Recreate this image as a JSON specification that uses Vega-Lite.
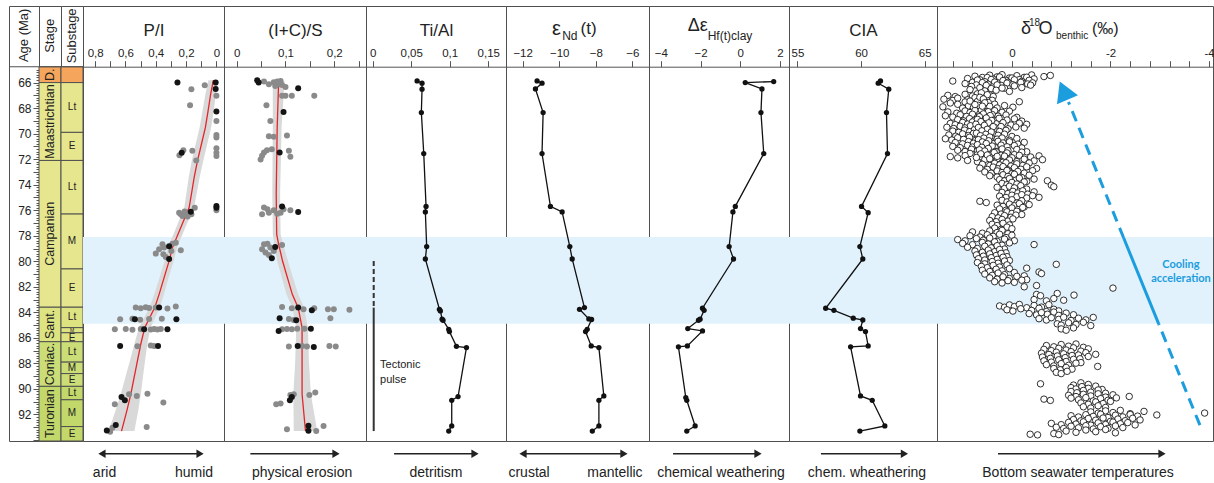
{
"$schema": "https://vega.github.io/schema/vega-lite/v6.json",
"background": "white",
"padding": {"left": 8, "top": 5, "right": 0, "bottom": 0},
"spacing": 0,
"bounds": "flush",
"resolve": {"scale": {"x": "independent", "y": "independent", "color": "independent"}},
"config": {
  "view": {"stroke": "#505050", "strokeWidth": 1},
  "font": "Liberation Sans",
  "axis": {"labelFont": "Liberation Sans", "titleFont": "Liberation Sans", "labelFontSize": 11.5, "titleFontSize": 17, "titleFontWeight": "normal", "labelColor": "#222", "titleColor": "#222", "tickColor": "#555", "domainColor": "#555", "tickSize": 6, "labelPadding": 2, "titlePadding": 8, "grid": false, "labelOverlap": false, "labelBound": false, "labelFlush": false, "labelSeparation": -1000},
  "text": {"font": "Liberation Sans", "color": "#222"}
},
"datasets": {
  "stages": [
    {"stage": "D.", "start": 64.76, "end": 66.0, "mid": 65.38},
    {"stage": "Maastrichtian", "start": 66.0, "end": 72.1, "mid": 69.05},
    {"stage": "Campanian", "start": 72.1, "end": 83.6, "mid": 77.85},
    {"stage": "Sant.", "start": 83.6, "end": 86.3, "mid": 84.95},
    {"stage": "Coniac.", "start": 86.3, "end": 89.8, "mid": 88.05},
    {"stage": "Turonian", "start": 89.8, "end": 94.08, "mid": 91.94}
  ],
  "substages": [
    {"stage": "D.", "sub": "", "start": 64.76, "end": 66.0, "mid": 65.4, "fs": "n"},
    {"stage": "Maastrichtian", "sub": "Lt", "start": 66.0, "end": 69.9, "mid": 67.95, "fs": "n"},
    {"stage": "Maastrichtian", "sub": "E", "start": 69.9, "end": 72.1, "mid": 71.0, "fs": "n"},
    {"stage": "Campanian", "sub": "Lt", "start": 72.1, "end": 76.3, "mid": 74.2, "fs": "n"},
    {"stage": "Campanian", "sub": "M", "start": 76.3, "end": 80.6, "mid": 78.45, "fs": "n"},
    {"stage": "Campanian", "sub": "E", "start": 80.6, "end": 83.6, "mid": 82.1, "fs": "n"},
    {"stage": "Sant.", "sub": "Lt", "start": 83.6, "end": 85.2, "mid": 84.35, "fs": "n"},
    {"stage": "Sant.", "sub": "M", "start": 85.2, "end": 85.6, "mid": 85.4, "fs": "s"},
    {"stage": "Sant.", "sub": "E", "start": 85.6, "end": 86.3, "mid": 85.98, "fs": "n"},
    {"stage": "Coniac.", "sub": "Lt", "start": 86.3, "end": 87.9, "mid": 87.1, "fs": "n"},
    {"stage": "Coniac.", "sub": "M", "start": 87.9, "end": 88.8, "mid": 88.35, "fs": "n"},
    {"stage": "Coniac.", "sub": "E", "start": 88.8, "end": 89.8, "mid": 89.3, "fs": "n"},
    {"stage": "Turonian", "sub": "Lt", "start": 89.8, "end": 90.85, "mid": 90.33, "fs": "n"},
    {"stage": "Turonian", "sub": "M", "start": 90.85, "end": 92.95, "mid": 91.9, "fs": "n"},
    {"stage": "Turonian", "sub": "E", "start": 92.95, "end": 94.08, "mid": 93.5, "fs": "n"}
  ],
  "pi": [
    {"age": 66.2, "v": 0.077, "c": "light"}, {"age": 66.52, "v": 0.165, "c": "light"}, {"age": 67.04, "v": 0.0, "c": "light"}, {"age": 67.77, "v": 0.174, "c": "light"}, {"age": 69.0, "v": 0.0, "c": "light"}, {"age": 70.1, "v": 0.0, "c": "light"}, {"age": 70.3, "v": 0.0, "c": "light"}, {"age": 71.15, "v": 0.0, "c": "light"}, {"age": 71.5, "v": 0.0, "c": "light"}, {"age": 71.75, "v": 0.0, "c": "light"}, {"age": 71.3, "v": 0.218, "c": "light"}, {"age": 71.7, "v": 0.244, "c": "light"}, {"age": 71.35, "v": 0.159, "c": "light"}, {"age": 72.1, "v": 0.133, "c": "light"}, {"age": 76.0, "v": 0.0, "c": "light"},
    {"age": 76.19, "v": 0.246, "c": "light"}, {"age": 76.32, "v": 0.235, "c": "light"}, {"age": 76.45, "v": 0.224, "c": "light"}, {"age": 76.4, "v": 0.202, "c": "light"}, {"age": 76.27, "v": 0.18, "c": "light"}, {"age": 76.32, "v": 0.165, "c": "light"}, {"age": 75.8, "v": 0.143, "c": "light"}, {"age": 76.1, "v": 0.21, "c": "light"}, {"age": 76.5, "v": 0.19, "c": "light"},
    {"age": 78.67, "v": 0.356, "c": "light"}, {"age": 78.93, "v": 0.345, "c": "light"}, {"age": 79.06, "v": 0.378, "c": "light"}, {"age": 79.4, "v": 0.4, "c": "light"}, {"age": 79.45, "v": 0.35, "c": "light"}, {"age": 79.66, "v": 0.334, "c": "light"}, {"age": 78.62, "v": 0.29, "c": "light"}, {"age": 78.54, "v": 0.268, "c": "light"}, {"age": 79.14, "v": 0.235, "c": "light"}, {"age": 79.19, "v": 0.297, "c": "light"},
    {"age": 83.63, "v": 0.532, "c": "light"}, {"age": 83.68, "v": 0.499, "c": "light"}, {"age": 83.6, "v": 0.466, "c": "light"}, {"age": 83.66, "v": 0.444, "c": "light"}, {"age": 83.62, "v": 0.4, "c": "light"}, {"age": 83.7, "v": 0.323, "c": "light"}, {"age": 83.55, "v": 0.268, "c": "light"},
    {"age": 84.54, "v": 0.635, "c": "light"}, {"age": 84.5, "v": 0.554, "c": "light"}, {"age": 84.58, "v": 0.503, "c": "light"}, {"age": 84.52, "v": 0.444, "c": "light"}, {"age": 84.5, "v": 0.36, "c": "light"},
    {"age": 85.33, "v": 0.67, "c": "light"}, {"age": 85.3, "v": 0.598, "c": "light"}, {"age": 85.36, "v": 0.554, "c": "light"}, {"age": 85.3, "v": 0.499, "c": "light"}, {"age": 85.35, "v": 0.433, "c": "light"}, {"age": 85.3, "v": 0.411, "c": "light"}, {"age": 85.34, "v": 0.389, "c": "light"}, {"age": 85.3, "v": 0.367, "c": "light"},
    {"age": 86.66, "v": 0.521, "c": "light"}, {"age": 86.6, "v": 0.433, "c": "light"}, {"age": 86.63, "v": 0.411, "c": "light"},
    {"age": 90.42, "v": 0.576, "c": "light"}, {"age": 90.55, "v": 0.525, "c": "light"}, {"age": 90.37, "v": 0.455, "c": "light"}, {"age": 91.2, "v": 0.67, "c": "light"}, {"age": 91.07, "v": 0.35, "c": "light"},
    {"age": 93.04, "v": 0.686, "c": "light"}, {"age": 93.35, "v": 0.701, "c": "light"}, {"age": 92.99, "v": 0.46, "c": "light"},
    {"age": 66.0, "v": 0.257, "c": "dark"}, {"age": 65.99, "v": 0.005, "c": "dark"}, {"age": 66.5, "v": 0.005, "c": "dark"}, {"age": 68.27, "v": 0.0, "c": "dark"}, {"age": 71.5, "v": 0.229, "c": "dark"}, {"age": 75.66, "v": 0.0, "c": "dark"}, {"age": 75.8, "v": 0.0, "c": "dark"}, {"age": 76.11, "v": 0.169, "c": "dark"}, {"age": 78.83, "v": 0.312, "c": "dark"}, {"age": 79.82, "v": 0.312, "c": "dark"}, {"age": 83.63, "v": 0.378, "c": "dark"}, {"age": 84.54, "v": 0.538, "c": "dark"}, {"age": 84.54, "v": 0.264, "c": "dark"}, {"age": 85.33, "v": 0.477, "c": "dark"}, {"age": 85.33, "v": 0.323, "c": "dark"}, {"age": 86.63, "v": 0.635, "c": "dark"}, {"age": 86.63, "v": 0.385, "c": "dark"}, {"age": 90.63, "v": 0.626, "c": "dark"}, {"age": 90.89, "v": 0.604, "c": "dark"}, {"age": 92.83, "v": 0.664, "c": "dark"}, {"age": 93.25, "v": 0.723, "c": "dark"}
  ],
  "pifit": [
    {"age": 65.81, "v": 0.02, "lo": -0.013, "hi": 0.053}, {"age": 66.91, "v": 0.038, "lo": 0.003, "hi": 0.073}, {"age": 68.22, "v": 0.055, "lo": 0.018, "hi": 0.092}, {"age": 69.53, "v": 0.073, "lo": 0.035, "hi": 0.111}, {"age": 70.83, "v": 0.099, "lo": 0.061, "hi": 0.137}, {"age": 72.14, "v": 0.125, "lo": 0.087, "hi": 0.163}, {"age": 73.44, "v": 0.147, "lo": 0.111, "hi": 0.183}, {"age": 74.75, "v": 0.165, "lo": 0.131, "hi": 0.199}, {"age": 75.79, "v": 0.18, "lo": 0.148, "hi": 0.212}, {"age": 77.36, "v": 0.235, "lo": 0.205, "hi": 0.265}, {"age": 78.93, "v": 0.29, "lo": 0.26, "hi": 0.32}, {"age": 79.97, "v": 0.312, "lo": 0.282, "hi": 0.342}, {"age": 81.28, "v": 0.345, "lo": 0.315, "hi": 0.375}, {"age": 82.59, "v": 0.378, "lo": 0.346, "hi": 0.41}, {"age": 83.63, "v": 0.407, "lo": 0.373, "hi": 0.441}, {"age": 85.2, "v": 0.473, "lo": 0.435, "hi": 0.511}, {"age": 86.5, "v": 0.499, "lo": 0.456, "hi": 0.542}, {"age": 87.81, "v": 0.521, "lo": 0.471, "hi": 0.571}, {"age": 89.11, "v": 0.543, "lo": 0.485, "hi": 0.601}, {"age": 90.42, "v": 0.565, "lo": 0.499, "hi": 0.631}, {"age": 91.72, "v": 0.591, "lo": 0.516, "hi": 0.666}, {"age": 93.3, "v": 0.626, "lo": 0.541, "hi": 0.711}
  ],
  "ics": [
    {"age": 65.92, "v": 0.056, "c": "light"}, {"age": 66.13, "v": 0.066, "c": "light"}, {"age": 65.97, "v": 0.076, "c": "light"}, {"age": 65.92, "v": 0.083, "c": "light"}, {"age": 66.13, "v": 0.086, "c": "light"}, {"age": 66.18, "v": 0.093, "c": "light"}, {"age": 66.34, "v": 0.1, "c": "light"}, {"age": 65.87, "v": 0.09, "c": "light"}, {"age": 66.26, "v": 0.079, "c": "light"}, {"age": 67.04, "v": 0.093, "c": "light"}, {"age": 67.04, "v": 0.1, "c": "light"}, {"age": 67.04, "v": 0.113, "c": "light"}, {"age": 67.04, "v": 0.159, "c": "light"}, {"age": 67.77, "v": 0.061, "c": "light"}, {"age": 69.0, "v": 0.069, "c": "light"},
    {"age": 70.2, "v": 0.066, "c": "light"}, {"age": 70.25, "v": 0.076, "c": "light"}, {"age": 70.15, "v": 0.103, "c": "light"},
    {"age": 71.48, "v": 0.056, "c": "light"}, {"age": 71.3, "v": 0.062, "c": "light"}, {"age": 71.22, "v": 0.072, "c": "light"}, {"age": 71.74, "v": 0.052, "c": "light"}, {"age": 72.03, "v": 0.049, "c": "light"}, {"age": 71.35, "v": 0.107, "c": "light"}, {"age": 71.82, "v": 0.11, "c": "light"},
    {"age": 75.79, "v": 0.056, "c": "light"}, {"age": 75.92, "v": 0.063, "c": "light"}, {"age": 76.19, "v": 0.066, "c": "light"}, {"age": 76.32, "v": 0.052, "c": "light"}, {"age": 76.0, "v": 0.076, "c": "light"}, {"age": 76.27, "v": 0.083, "c": "light"}, {"age": 76.19, "v": 0.09, "c": "light"}, {"age": 75.92, "v": 0.096, "c": "light"}, {"age": 76.0, "v": 0.11, "c": "light"},
    {"age": 78.67, "v": 0.056, "c": "light"}, {"age": 78.62, "v": 0.063, "c": "light"}, {"age": 79.06, "v": 0.052, "c": "light"}, {"age": 79.32, "v": 0.059, "c": "light"}, {"age": 79.5, "v": 0.066, "c": "light"}, {"age": 78.93, "v": 0.069, "c": "light"}, {"age": 79.19, "v": 0.076, "c": "light"}, {"age": 78.72, "v": 0.093, "c": "light"},
    {"age": 83.58, "v": 0.093, "c": "light"}, {"age": 83.68, "v": 0.113, "c": "light"}, {"age": 83.76, "v": 0.137, "c": "light"}, {"age": 83.68, "v": 0.159, "c": "light"}, {"age": 83.76, "v": 0.187, "c": "light"}, {"age": 83.76, "v": 0.199, "c": "light"}, {"age": 83.79, "v": 0.231, "c": "light"},
    {"age": 84.52, "v": 0.107, "c": "light"}, {"age": 84.6, "v": 0.117, "c": "light"}, {"age": 84.47, "v": 0.192, "c": "light"},
    {"age": 85.33, "v": 0.093, "c": "light"}, {"age": 85.3, "v": 0.103, "c": "light"}, {"age": 85.33, "v": 0.113, "c": "light"}, {"age": 85.28, "v": 0.124, "c": "light"}, {"age": 85.28, "v": 0.139, "c": "light"},
    {"age": 86.68, "v": 0.107, "c": "light"}, {"age": 86.63, "v": 0.134, "c": "light"}, {"age": 86.68, "v": 0.144, "c": "light"}, {"age": 86.63, "v": 0.19, "c": "light"}, {"age": 86.68, "v": 0.203, "c": "light"},
    {"age": 90.47, "v": 0.11, "c": "light"}, {"age": 90.42, "v": 0.117, "c": "light"}, {"age": 90.47, "v": 0.149, "c": "light"}, {"age": 90.29, "v": 0.161, "c": "light"}, {"age": 91.2, "v": 0.081, "c": "light"}, {"age": 91.15, "v": 0.09, "c": "light"},
    {"age": 93.15, "v": 0.103, "c": "light"}, {"age": 92.9, "v": 0.178, "c": "light"}, {"age": 93.3, "v": 0.163, "c": "light"},
    {"age": 65.81, "v": 0.042, "c": "dark"}, {"age": 66.0, "v": 0.045, "c": "dark"}, {"age": 66.44, "v": 0.126, "c": "dark"}, {"age": 68.3, "v": 0.096, "c": "dark"}, {"age": 71.48, "v": 0.088, "c": "dark"}, {"age": 75.7, "v": 0.093, "c": "dark"}, {"age": 76.13, "v": 0.126, "c": "dark"}, {"age": 78.88, "v": 0.079, "c": "dark"}, {"age": 79.76, "v": 0.072, "c": "dark"}, {"age": 83.63, "v": 0.126, "c": "dark"}, {"age": 83.84, "v": 0.154, "c": "dark"}, {"age": 84.47, "v": 0.088, "c": "dark"}, {"age": 84.62, "v": 0.122, "c": "dark"}, {"age": 85.46, "v": 0.086, "c": "dark"}, {"age": 85.28, "v": 0.152, "c": "dark"}, {"age": 86.63, "v": 0.125, "c": "dark"}, {"age": 86.71, "v": 0.158, "c": "dark"}, {"age": 90.63, "v": 0.113, "c": "dark"}, {"age": 90.89, "v": 0.109, "c": "dark"}, {"age": 92.88, "v": 0.147, "c": "dark"}, {"age": 93.27, "v": 0.147, "c": "dark"}
  ],
  "icsfit": [
    {"age": 65.9, "v": 0.086, "lo": 0.074, "hi": 0.098}, {"age": 69.53, "v": 0.083, "lo": 0.074, "hi": 0.092}, {"age": 74.75, "v": 0.081, "lo": 0.073, "hi": 0.089}, {"age": 77.89, "v": 0.082, "lo": 0.074, "hi": 0.09}, {"age": 78.67, "v": 0.086, "lo": 0.077, "hi": 0.095}, {"age": 79.98, "v": 0.094, "lo": 0.083, "hi": 0.105}, {"age": 82.59, "v": 0.114, "lo": 0.102, "hi": 0.126}, {"age": 83.63, "v": 0.126, "lo": 0.114, "hi": 0.138}, {"age": 85.2, "v": 0.134, "lo": 0.122, "hi": 0.146}, {"age": 87.81, "v": 0.134, "lo": 0.12, "hi": 0.148}, {"age": 90.42, "v": 0.134, "lo": 0.116, "hi": 0.152}, {"age": 93.3, "v": 0.141, "lo": 0.117, "hi": 0.165}
  ],
  "tial": [
    {"age": 65.87, "v": 0.0577}, {"age": 66.05, "v": 0.0641}, {"age": 66.52, "v": 0.0641}, {"age": 68.35, "v": 0.0632}, {"age": 71.56, "v": 0.0663}, {"age": 75.7, "v": 0.0693}, {"age": 76.13, "v": 0.0684}, {"age": 78.85, "v": 0.0701}, {"age": 79.82, "v": 0.0684}, {"age": 83.76, "v": 0.0866}, {"age": 83.89, "v": 0.0879}, {"age": 84.54, "v": 0.0901}, {"age": 84.62, "v": 0.0913}, {"age": 85.33, "v": 0.0987}, {"age": 85.51, "v": 0.0996}, {"age": 86.66, "v": 0.1087}, {"age": 86.76, "v": 0.1217}, {"age": 90.6, "v": 0.1108}, {"age": 90.89, "v": 0.1026}, {"age": 92.9, "v": 0.1026}, {"age": 93.3, "v": 0.0987}
  ],
  "nd": [
    {"age": 65.87, "v": -11.21}, {"age": 66.05, "v": -10.94}, {"age": 66.5, "v": -11.3}, {"age": 68.35, "v": -10.88}, {"age": 71.56, "v": -10.94}, {"age": 75.7, "v": -10.48}, {"age": 76.13, "v": -9.84}, {"age": 78.85, "v": -9.42}, {"age": 79.82, "v": -9.29}, {"age": 83.63, "v": -8.62}, {"age": 83.76, "v": -8.89}, {"age": 84.52, "v": -8.38}, {"age": 84.56, "v": -8.23}, {"age": 85.33, "v": -8.47}, {"age": 85.51, "v": -8.56}, {"age": 86.63, "v": -8.25}, {"age": 86.76, "v": -7.83}, {"age": 90.55, "v": -7.56}, {"age": 90.89, "v": -7.83}, {"age": 92.9, "v": -7.83}, {"age": 93.3, "v": -8.19}
  ],
  "hf": [
    {"age": 65.92, "v": 1.68}, {"age": 66.0, "v": 0.25}, {"age": 66.5, "v": 1.09}, {"age": 68.35, "v": 1.04}, {"age": 71.56, "v": 1.18}, {"age": 75.7, "v": -0.25}, {"age": 76.13, "v": -0.37}, {"age": 78.85, "v": -0.56}, {"age": 79.82, "v": -0.34}, {"age": 83.68, "v": -1.9}, {"age": 83.84, "v": -1.82}, {"age": 84.54, "v": -2.02}, {"age": 84.62, "v": -2.1}, {"age": 85.27, "v": -2.64}, {"age": 85.46, "v": -1.9}, {"age": 86.63, "v": -2.66}, {"age": 86.7, "v": -3.11}, {"age": 90.68, "v": -2.74}, {"age": 90.89, "v": -2.69}, {"age": 92.9, "v": -2.27}, {"age": 93.3, "v": -2.69}
  ],
  "cia": [
    {"age": 65.87, "v": 61.53}, {"age": 66.05, "v": 61.35}, {"age": 66.52, "v": 62.18}, {"age": 68.35, "v": 62.0}, {"age": 71.56, "v": 62.08}, {"age": 75.7, "v": 60.04}, {"age": 76.19, "v": 60.56}, {"age": 78.85, "v": 59.91}, {"age": 79.82, "v": 60.14}, {"age": 83.68, "v": 57.22}, {"age": 83.84, "v": 57.87}, {"age": 84.46, "v": 59.39}, {"age": 84.6, "v": 60.14}, {"age": 85.27, "v": 59.96}, {"age": 85.51, "v": 60.35}, {"age": 86.63, "v": 60.56}, {"age": 86.7, "v": 59.18}, {"age": 90.55, "v": 59.96}, {"age": 90.89, "v": 60.88}, {"age": 92.9, "v": 61.87}, {"age": 93.3, "v": 59.91}
  ],
  "o18": [
    {"a":65.5,"d":0.75},{"a":65.6,"d":0.6},{"a":65.42,"d":0.45},{"a":65.55,"d":0.3},{"a":65.38,"d":0.2},{"a":65.64,"d":0.05},{"a":65.46,"d":-0.1},{"a":65.59,"d":-0.25},{"a":65.4,"d":-0.4},{"a":65.53,"d":-0.65},{"a":65.44,"d":-0.78},
    {"a":65.68,"d":0.9},{"a":65.78,"d":0.65},{"a":65.6,"d":0.5},{"a":65.73,"d":0.38},{"a":65.56,"d":0.25},{"a":65.82,"d":0.12},{"a":65.64,"d":0.0},{"a":65.77,"d":-0.15},{"a":65.58,"d":-0.3},{"a":65.71,"d":-0.45},
    {"a":65.88,"d":1.2},{"a":65.98,"d":0.8},{"a":65.8,"d":0.7},{"a":65.93,"d":0.55},{"a":65.76,"d":0.42},{"a":66.02,"d":0.3},{"a":65.84,"d":0.18},{"a":65.97,"d":0.08},{"a":65.78,"d":-0.05},{"a":65.91,"d":-0.2},{"a":65.82,"d":-0.35},
    {"a":66.08,"d":0.95},{"a":66.18,"d":0.72},{"a":66.0,"d":0.6},{"a":66.13,"d":0.48},{"a":65.96,"d":0.35},{"a":66.22,"d":0.22},{"a":66.04,"d":0.1},{"a":66.17,"d":-0.02},{"a":65.98,"d":-0.18},{"a":66.11,"d":-0.32},{"a":66.02,"d":-0.42},
    {"a":66.3,"d":0.82},{"a":66.4,"d":0.65},{"a":66.22,"d":0.52},{"a":66.35,"d":0.4},{"a":66.18,"d":0.3},{"a":66.44,"d":0.15},{"a":66.26,"d":-0.05},{"a":66.39,"d":-0.2},{"a":66.2,"d":-0.38},
    {"a":66.55,"d":0.85},{"a":66.65,"d":0.55},{"a":66.47,"d":0.42},{"a":66.6,"d":0.32},{"a":66.43,"d":0.2},{"a":66.69,"d":0.05},
    {"a":67.0,"d":1.3},{"a":67.1,"d":1.15},{"a":66.92,"d":0.95},{"a":67.05,"d":0.8},{"a":66.88,"d":0.7},{"a":67.14,"d":0.55},{"a":66.96,"d":0.45},{"a":67.09,"d":0.38},
    {"a":67.3,"d":1.38},{"a":67.4,"d":1.2},{"a":67.22,"d":1.1},{"a":67.35,"d":0.9},{"a":67.18,"d":0.75},{"a":67.44,"d":0.62},{"a":67.26,"d":0.5},{"a":67.39,"d":0.4},
    {"a":67.6,"d":1.25},{"a":67.7,"d":1.1},{"a":67.52,"d":0.95},{"a":67.65,"d":0.82},{"a":67.48,"d":0.7},{"a":67.74,"d":0.6},{"a":67.56,"d":0.48},{"a":67.69,"d":0.35},{"a":67.5,"d":-0.15},
    {"a":67.9,"d":1.4},{"a":68.0,"d":1.0},{"a":67.82,"d":0.88},{"a":67.95,"d":0.78},{"a":67.78,"d":0.68},{"a":68.04,"d":0.55},{"a":67.86,"d":0.45},{"a":67.99,"d":0.3},{"a":67.8,"d":0.15},{"a":67.93,"d":-0.02},
    {"a":68.3,"d":1.3},{"a":68.4,"d":1.12},{"a":68.22,"d":0.95},{"a":68.35,"d":0.85},{"a":68.18,"d":0.75},{"a":68.44,"d":0.65},{"a":68.26,"d":0.55},{"a":68.39,"d":0.45},{"a":68.2,"d":0.35},{"a":68.33,"d":0.2},{"a":68.24,"d":0.05},
    {"a":68.6,"d":1.35},{"a":68.7,"d":1.2},{"a":68.52,"d":1.05},{"a":68.65,"d":0.92},{"a":68.48,"d":0.8},{"a":68.74,"d":0.7},{"a":68.56,"d":0.6},{"a":68.69,"d":0.5},{"a":68.5,"d":0.4},{"a":68.63,"d":0.28},{"a":68.54,"d":0.12},{"a":68.72,"d":-0.1},
    {"a":68.9,"d":1.1},{"a":69.0,"d":0.98},{"a":68.82,"d":0.86},{"a":68.95,"d":0.76},{"a":68.78,"d":0.66},{"a":69.04,"d":0.56},{"a":68.86,"d":0.46},{"a":68.99,"d":0.36},{"a":68.8,"d":0.26},{"a":68.93,"d":0.1},{"a":68.84,"d":-0.05},{"a":69.02,"d":-0.2},
    {"a":69.2,"d":1.25},{"a":69.3,"d":1.15},{"a":69.12,"d":1.0},{"a":69.25,"d":0.9},{"a":69.08,"d":0.8},{"a":69.34,"d":0.7},{"a":69.16,"d":0.6},{"a":69.29,"d":0.5},{"a":69.1,"d":0.42},{"a":69.23,"d":0.32},{"a":69.14,"d":0.18},{"a":69.32,"d":0.02},{"a":69.18,"d":-0.15},{"a":69.27,"d":-0.3},
    {"a":69.5,"d":1.32},{"a":69.6,"d":1.18},{"a":69.42,"d":1.05},{"a":69.55,"d":0.95},{"a":69.38,"d":0.84},{"a":69.64,"d":0.74},{"a":69.46,"d":0.64},{"a":69.59,"d":0.54},{"a":69.4,"d":0.44},{"a":69.53,"d":0.34},{"a":69.44,"d":0.22},{"a":69.62,"d":0.08},{"a":69.48,"d":-0.08},{"a":69.57,"d":-0.25},
    {"a":69.8,"d":1.2},{"a":69.9,"d":1.08},{"a":69.72,"d":0.96},{"a":69.85,"d":0.86},{"a":69.68,"d":0.76},{"a":69.94,"d":0.66},{"a":69.76,"d":0.56},{"a":69.89,"d":0.46},{"a":69.7,"d":0.36},{"a":69.83,"d":0.25},{"a":69.74,"d":0.12},
    {"a":70.1,"d":1.28},{"a":70.2,"d":1.14},{"a":70.02,"d":1.0},{"a":70.15,"d":0.88},{"a":69.98,"d":0.78},{"a":70.24,"d":0.68},{"a":70.06,"d":0.58},{"a":70.19,"d":0.48},{"a":70.0,"d":0.38},{"a":70.13,"d":0.28},{"a":70.04,"d":0.15},{"a":70.22,"d":0.0},
    {"a":70.4,"d":1.35},{"a":70.5,"d":1.22},{"a":70.32,"d":1.1},{"a":70.45,"d":0.98},{"a":70.28,"d":0.86},{"a":70.54,"d":0.74},{"a":70.36,"d":0.62},{"a":70.49,"d":0.52},{"a":70.3,"d":0.42},{"a":70.43,"d":0.3},{"a":70.34,"d":0.2},{"a":70.52,"d":0.05},{"a":70.38,"d":-0.1},
    {"a":70.7,"d":1.15},{"a":70.8,"d":1.0},{"a":70.62,"d":0.88},{"a":70.75,"d":0.78},{"a":70.58,"d":0.68},{"a":70.84,"d":0.58},{"a":70.66,"d":0.48},{"a":70.79,"d":0.38},{"a":70.6,"d":0.28},{"a":70.73,"d":0.18},{"a":70.64,"d":0.05},{"a":70.82,"d":-0.12},{"a":70.68,"d":-0.25},
    {"a":71.0,"d":1.2},{"a":71.1,"d":1.05},{"a":70.92,"d":0.9},{"a":71.05,"d":0.8},{"a":70.88,"d":0.68},{"a":71.14,"d":0.56},{"a":70.96,"d":0.44},{"a":71.09,"d":0.34},{"a":70.9,"d":0.22},{"a":71.03,"d":0.1},{"a":70.94,"d":-0.05},{"a":71.12,"d":-0.2},
    {"a":71.3,"d":1.1},{"a":71.4,"d":0.95},{"a":71.22,"d":0.82},{"a":71.35,"d":0.7},{"a":71.18,"d":0.6},{"a":71.44,"d":0.5},{"a":71.26,"d":0.4},{"a":71.39,"d":0.3},{"a":71.2,"d":0.2},{"a":71.33,"d":0.08},{"a":71.24,"d":-0.1},{"a":71.42,"d":-0.3},
    {"a":71.55,"d":0.85},{"a":71.65,"d":0.7},{"a":71.47,"d":0.58},{"a":71.6,"d":0.45},{"a":71.43,"d":0.32},{"a":71.69,"d":0.22},{"a":71.51,"d":0.1},{"a":71.64,"d":-0.05},{"a":71.45,"d":-0.2},
    {"a":71.8,"d":1.25},{"a":71.9,"d":1.1},{"a":71.72,"d":0.95},{"a":71.85,"d":0.6},{"a":71.68,"d":0.45},{"a":71.94,"d":0.3},{"a":71.76,"d":0.15},{"a":71.89,"d":0.0},{"a":71.7,"d":-0.15},{"a":71.83,"d":-0.38},{"a":71.74,"d":-0.55},
    {"a":72.1,"d":0.9},{"a":72.2,"d":0.7},{"a":72.02,"d":0.55},{"a":72.15,"d":0.42},{"a":71.98,"d":0.3},{"a":72.24,"d":0.18},{"a":72.06,"d":0.05},{"a":72.19,"d":-0.1},{"a":72.0,"d":-0.25},{"a":72.13,"d":-0.45},{"a":72.04,"d":-0.62},
    {"a":68.15,"d":0.62},{"a":68.28,"d":0.48},{"a":68.45,"d":0.58},{"a":68.58,"d":0.44},{"a":68.67,"d":0.66},{"a":68.77,"d":0.52},{"a":68.88,"d":0.7},{"a":68.97,"d":0.41},{"a":69.06,"d":0.63},{"a":69.15,"d":0.47},{"a":69.26,"d":0.73},{"a":69.35,"d":0.56},{"a":69.45,"d":0.38},{"a":69.52,"d":0.68},{"a":69.66,"d":0.5},{"a":69.78,"d":0.61},{"a":69.87,"d":0.42},{"a":69.96,"d":0.72},{"a":70.05,"d":0.53},{"a":70.16,"d":0.64},{"a":70.26,"d":0.45},{"a":70.35,"d":0.57},{"a":70.47,"d":0.68},{"a":70.56,"d":0.47},{"a":70.65,"d":0.6},{"a":70.77,"d":0.52},{"a":70.86,"d":0.7},{"a":70.97,"d":0.4},{"a":71.07,"d":0.61},{"a":71.16,"d":0.48},{"a":71.27,"d":0.66},{"a":71.36,"d":0.55},{"a":71.48,"d":0.36},{"a":71.58,"d":0.63},{"a":71.67,"d":0.5},{"a":71.78,"d":0.3},{"a":71.87,"d":0.72},{"a":71.97,"d":0.45},
    {"a":66.8,"d":0.62},{"a":66.95,"d":0.5},{"a":67.15,"d":0.65},{"a":67.28,"d":0.58},{"a":67.45,"d":0.85},{"a":67.58,"d":0.55},{"a":67.72,"d":0.75},{"a":67.85,"d":0.6},
    {"a":72.4,"d":0.6},{"a":72.5,"d":0.45},{"a":72.32,"d":0.35},{"a":72.45,"d":0.25},{"a":72.28,"d":0.12},{"a":72.54,"d":0.02},{"a":72.36,"d":-0.1},{"a":72.49,"d":-0.22},{"a":72.3,"d":-0.35},
    {"a":72.7,"d":0.65},{"a":72.8,"d":0.5},{"a":72.62,"d":0.38},{"a":72.75,"d":0.28},{"a":72.58,"d":0.18},{"a":72.84,"d":0.08},{"a":72.66,"d":-0.05},{"a":72.79,"d":-0.18},{"a":72.6,"d":-0.3},{"a":72.73,"d":-0.5},
    {"a":73.0,"d":0.55},{"a":73.1,"d":0.42},{"a":72.92,"d":0.3},{"a":73.05,"d":0.2},{"a":72.88,"d":0.1},{"a":73.14,"d":0.0},{"a":72.96,"d":-0.12},{"a":73.09,"d":-0.25},{"a":72.9,"d":-0.42},
    {"a":73.3,"d":0.45},{"a":73.4,"d":0.3},{"a":73.22,"d":0.18},{"a":73.35,"d":0.08},{"a":73.18,"d":-0.05},{"a":73.44,"d":-0.2},{"a":73.26,"d":-0.35},
    {"a":73.6,"d":0.25},{"a":73.7,"d":0.15},{"a":73.52,"d":0.05},{"a":73.65,"d":-0.08},{"a":73.48,"d":-0.15},{"a":73.74,"d":-0.3},{"a":73.56,"d":-0.45},{"a":73.69,"d":-0.72},
    {"a":73.9,"d":0.2},{"a":74.0,"d":0.1},{"a":73.82,"d":0.0},{"a":73.95,"d":-0.1},{"a":73.78,"d":-0.25},{"a":74.04,"d":-0.8},
    {"a":74.2,"d":0.3},{"a":74.3,"d":0.15},{"a":74.12,"d":0.05},{"a":74.25,"d":-0.05},{"a":74.08,"d":-0.18},{"a":74.34,"d":-0.3},{"a":74.16,"d":-0.85},
    {"a":74.6,"d":0.2},{"a":74.7,"d":0.08},{"a":74.52,"d":-0.02},{"a":74.65,"d":-0.12},{"a":74.48,"d":-0.22},{"a":74.74,"d":-0.32},{"a":74.56,"d":-0.45},
    {"a":74.9,"d":0.25},{"a":75.0,"d":0.12},{"a":74.82,"d":0.0},{"a":74.95,"d":-0.1},{"a":74.78,"d":-0.2},{"a":75.04,"d":-0.3},{"a":74.86,"d":-0.42},{"a":74.99,"d":-0.55},
    {"a":75.3,"d":0.65},{"a":75.4,"d":0.52},{"a":75.22,"d":0.2},{"a":75.35,"d":0.1},{"a":75.18,"d":0.0},{"a":75.44,"d":-0.1},{"a":75.26,"d":-0.2},
    {"a":75.6,"d":0.3},{"a":75.7,"d":0.18},{"a":75.52,"d":0.05},{"a":75.65,"d":-0.05},{"a":75.48,"d":-0.15},{"a":75.74,"d":-0.25},{"a":75.56,"d":-0.35},
    {"a":75.9,"d":0.25},{"a":76.0,"d":0.12},{"a":75.82,"d":0.0},{"a":75.95,"d":-0.12},{"a":75.78,"d":-0.22},
    {"a":76.2,"d":0.35},{"a":76.3,"d":0.22},{"a":76.12,"d":0.1},{"a":76.25,"d":0.0},{"a":76.08,"d":-0.1},{"a":76.34,"d":-0.2},
    {"a":76.5,"d":0.4},{"a":76.6,"d":0.28},{"a":76.42,"d":0.15},{"a":76.55,"d":0.02},{"a":76.38,"d":-0.08},
    {"a":76.8,"d":0.45},{"a":76.9,"d":0.32},{"a":76.72,"d":0.2},{"a":76.85,"d":0.08},{"a":76.68,"d":-0.02},
    {"a":77.1,"d":0.4},{"a":77.2,"d":0.3},{"a":77.02,"d":0.18},{"a":77.15,"d":0.05},
    {"a":77.4,"d":0.35},{"a":77.5,"d":0.22},{"a":77.32,"d":0.1},{"a":77.45,"d":0.0},
    {"a":77.7,"d":0.8},{"a":77.8,"d":0.6},{"a":77.62,"d":0.45},{"a":77.75,"d":0.3},{"a":77.58,"d":0.2},{"a":77.84,"d":0.08},
    {"a":78.0,"d":0.85},{"a":78.1,"d":0.65},{"a":77.92,"d":0.5},{"a":78.05,"d":0.38},{"a":77.88,"d":0.25},{"a":78.14,"d":0.12},{"a":77.96,"d":0.0},
    {"a":78.3,"d":1.1},{"a":78.4,"d":0.95},{"a":78.22,"d":0.72},{"a":78.35,"d":0.58},{"a":78.18,"d":0.45},{"a":78.44,"d":0.3},{"a":78.26,"d":0.15},{"a":78.39,"d":-0.05},
    {"a":78.6,"d":1.0},{"a":78.7,"d":0.8},{"a":78.52,"d":0.6},{"a":78.65,"d":0.48},{"a":78.48,"d":0.35},{"a":78.74,"d":0.2},{"a":78.56,"d":0.05},{"a":78.69,"d":-0.45},
    {"a":78.9,"d":0.9},{"a":79.0,"d":0.7},{"a":78.82,"d":0.55},{"a":78.95,"d":0.42},{"a":78.78,"d":0.3},{"a":79.04,"d":0.15},
    {"a":79.2,"d":0.75},{"a":79.3,"d":0.6},{"a":79.12,"d":0.48},{"a":79.25,"d":0.35},{"a":79.08,"d":0.25},{"a":79.34,"d":0.12},
    {"a":79.5,"d":0.72},{"a":79.6,"d":0.58},{"a":79.42,"d":0.45},{"a":79.55,"d":0.32},{"a":79.38,"d":0.22},{"a":79.64,"d":0.1},
    {"a":79.8,"d":0.68},{"a":79.9,"d":0.55},{"a":79.72,"d":0.42},{"a":79.85,"d":0.3},{"a":79.68,"d":0.18},{"a":79.94,"d":0.05},
    {"a":80.1,"d":0.7},{"a":80.2,"d":0.55},{"a":80.02,"d":0.4},{"a":80.15,"d":0.28},{"a":79.98,"d":0.15},{"a":80.24,"d":-0.9},
    {"a":80.4,"d":0.62},{"a":80.5,"d":0.5},{"a":80.32,"d":0.38},{"a":80.45,"d":0.25},{"a":80.28,"d":0.1},{"a":80.54,"d":-0.3},
    {"a":80.7,"d":0.6},{"a":80.8,"d":0.45},{"a":80.62,"d":0.32},{"a":80.75,"d":0.2},{"a":80.58,"d":0.05},{"a":80.84,"d":-0.55},
    {"a":81.0,"d":0.55},{"a":81.1,"d":0.4},{"a":80.92,"d":0.28},{"a":81.05,"d":0.15},{"a":80.88,"d":-0.05},{"a":81.14,"d":-0.25},{"a":80.96,"d":-0.6},
    {"a":81.3,"d":0.45},{"a":81.4,"d":0.3},{"a":81.22,"d":0.18},{"a":81.35,"d":0.05},{"a":81.18,"d":-0.1},{"a":81.44,"d":-0.3},
    {"a":81.6,"d":0.35},{"a":81.7,"d":0.2},{"a":81.52,"d":0.08},{"a":81.65,"d":-0.05},{"a":81.48,"d":-0.2},
    {"a":82.1,"d":-2.05},{"a":81.9,"d":-0.5},{"a":82.0,"d":-0.25},
    {"a":82.6,"d":-0.5},{"a":82.7,"d":-0.58},{"a":82.52,"d":-0.92},{"a":82.65,"d":-1.26},
    {"a":83.0,"d":-0.45},{"a":83.1,"d":-0.7},{"a":82.92,"d":-0.85},{"a":83.05,"d":-1.05},
    {"a":83.5,"d":0.25},{"a":83.6,"d":0.15},{"a":83.42,"d":0.05},{"a":83.55,"d":-0.05},{"a":83.38,"d":-0.15},{"a":83.64,"d":-0.3},{"a":83.46,"d":-0.45},{"a":83.59,"d":-0.6},{"a":83.4,"d":-0.75},
    {"a":83.8,"d":0.1},{"a":83.9,"d":-0.02},{"a":83.72,"d":-0.18},{"a":83.85,"d":-0.4},{"a":83.68,"d":-0.55},{"a":83.94,"d":-0.7},{"a":83.76,"d":-0.85},{"a":83.89,"d":-0.95},
    {"a":84.1,"d":-0.35},{"a":84.2,"d":-0.5},{"a":84.02,"d":-0.6},{"a":84.15,"d":-0.72},{"a":83.98,"d":-0.85},{"a":84.24,"d":-0.95},{"a":84.06,"d":-1.1},{"a":84.19,"d":-1.25},
    {"a":84.5,"d":-0.55},{"a":84.6,"d":-0.7},{"a":84.42,"d":-0.8},{"a":84.55,"d":-0.95},{"a":84.38,"d":-1.05},{"a":84.64,"d":-1.2},{"a":84.46,"d":-1.35},{"a":84.59,"d":-1.5},{"a":84.4,"d":-1.65},
    {"a":84.9,"d":-0.92},{"a":85.0,"d":-1.0},{"a":84.82,"d":-1.15},{"a":84.95,"d":-1.3},{"a":84.78,"d":-1.45},{"a":85.04,"d":-1.6},
    {"a":85.3,"d":-1.0},{"a":85.4,"d":-1.1},{"a":85.22,"d":-1.25},
    {"a":86.6,"d":-0.7},{"a":86.7,"d":-0.85},{"a":86.52,"d":-1.0},{"a":86.65,"d":-1.15},{"a":86.48,"d":-1.3},{"a":86.74,"d":-1.45},
    {"a":86.9,"d":-0.65},{"a":87.0,"d":-0.8},{"a":86.82,"d":-0.95},{"a":86.95,"d":-1.1},{"a":86.78,"d":-1.25},{"a":87.04,"d":-1.4},{"a":86.86,"d":-1.55},
    {"a":87.2,"d":-0.6},{"a":87.3,"d":-0.75},{"a":87.12,"d":-0.9},{"a":87.25,"d":-1.05},{"a":87.08,"d":-1.2},{"a":87.34,"d":-1.35},{"a":87.16,"d":-1.5},{"a":87.29,"d":-1.7},
    {"a":87.5,"d":-0.62},{"a":87.6,"d":-0.78},{"a":87.42,"d":-0.92},{"a":87.55,"d":-1.08},{"a":87.38,"d":-1.22},{"a":87.64,"d":-1.38},{"a":87.46,"d":-1.55},
    {"a":87.8,"d":-0.65},{"a":87.9,"d":-0.8},{"a":87.72,"d":-0.95},{"a":87.85,"d":-1.1},{"a":87.68,"d":-1.25},{"a":87.94,"d":-1.4},
    {"a":88.1,"d":-0.7},{"a":88.2,"d":-0.85},{"a":88.02,"d":-1.0},{"a":88.15,"d":-1.15},{"a":87.98,"d":-1.3},{"a":88.24,"d":-1.74},
    {"a":88.4,"d":-0.85},{"a":88.5,"d":-0.98},{"a":88.32,"d":-1.1},{"a":88.45,"d":-1.22},
    {"a":88.7,"d":-0.9},{"a":88.8,"d":-1.0},{"a":88.62,"d":-1.12},
    {"a":89.6,"d":-0.58},{"a":89.7,"d":-1.25},{"a":89.52,"d":-1.4},{"a":89.65,"d":-1.55},
    {"a":89.9,"d":-1.2},{"a":90.0,"d":-1.3},{"a":89.82,"d":-1.42},{"a":89.95,"d":-1.55},{"a":89.78,"d":-1.7},{"a":90.04,"d":-1.83},
    {"a":90.2,"d":-1.2},{"a":90.3,"d":-1.32},{"a":90.12,"d":-1.45},{"a":90.25,"d":-1.6},{"a":90.08,"d":-1.75},{"a":90.34,"d":-1.9},
    {"a":90.5,"d":-1.15},{"a":90.6,"d":-1.3},{"a":90.42,"d":-1.45},{"a":90.55,"d":-1.6},{"a":90.38,"d":-1.75},{"a":90.64,"d":-1.9},{"a":90.46,"d":-2.05},{"a":90.59,"d":-2.38},
    {"a":90.8,"d":-0.65},{"a":90.9,"d":-0.78},{"a":90.72,"d":-1.2},{"a":90.85,"d":-1.35},{"a":90.68,"d":-1.5},{"a":90.94,"d":-1.65},{"a":90.76,"d":-1.8},{"a":90.89,"d":-1.95},{"a":90.7,"d":-2.12},
    {"a":91.1,"d":-1.4},{"a":91.2,"d":-1.55},{"a":91.02,"d":-1.7},{"a":91.15,"d":-1.85},{"a":90.98,"d":-2.0},
    {"a":91.4,"d":-1.45},{"a":91.5,"d":-1.6},{"a":91.32,"d":-1.75},{"a":91.45,"d":-1.9},
    {"a":91.8,"d":-1.6},{"a":91.9,"d":-1.75},{"a":91.72,"d":-1.9},{"a":91.85,"d":-2.05},{"a":91.68,"d":-2.2},{"a":91.94,"d":-2.4},{"a":91.76,"d":-2.68},{"a":91.89,"d":-3.91},
    {"a":92.1,"d":-1.2},{"a":92.2,"d":-1.35},{"a":92.02,"d":-1.5},{"a":92.15,"d":-1.65},{"a":91.98,"d":-1.8},{"a":92.24,"d":-1.95},{"a":92.06,"d":-2.1},{"a":92.19,"d":-2.25},{"a":92.0,"d":-2.4},{"a":92.13,"d":-2.55},{"a":92.04,"d":-2.94},
    {"a":92.4,"d":-1.25},{"a":92.5,"d":-1.4},{"a":92.32,"d":-1.55},{"a":92.45,"d":-1.7},{"a":92.28,"d":-1.85},{"a":92.54,"d":-2.0},{"a":92.36,"d":-2.15},{"a":92.49,"d":-2.3},{"a":92.3,"d":-2.45},{"a":92.43,"d":-2.6},
    {"a":92.7,"d":-0.8},{"a":92.8,"d":-1.0},{"a":92.62,"d":-1.15},{"a":92.75,"d":-1.3},{"a":92.58,"d":-1.45},{"a":92.84,"d":-1.6},{"a":92.66,"d":-1.75},{"a":92.79,"d":-1.9},{"a":92.6,"d":-2.05},{"a":92.73,"d":-2.2},{"a":92.64,"d":-2.35},{"a":92.82,"d":-2.5},
    {"a":93.0,"d":-0.9},{"a":93.1,"d":-1.05},{"a":92.92,"d":-1.2},{"a":93.05,"d":-1.35},{"a":92.88,"d":-1.5},{"a":93.14,"d":-1.65},{"a":92.96,"d":-1.8},{"a":93.09,"d":-1.95},{"a":92.9,"d":-2.1},{"a":93.03,"d":-2.25},
    {"a":93.3,"d":-1.1},{"a":93.4,"d":-1.3},{"a":93.22,"d":-1.5},{"a":93.35,"d":-1.7},{"a":93.18,"d":-1.9},{"a":93.44,"d":-2.1},
    {"a":93.55,"d":-0.37},{"a":93.6,"d":-0.52},{"a":93.5,"d":-0.85},{"a":93.58,"d":-0.95}
  ]
},
"hconcat": [
  {
    "width": 30, "height": 435,
    "data": {"values": [{}]},
    "layer": [
      {"mark": {"type": "rule", "color": "#505050"},
       "encoding": {"y": {"datum": 64.76, "type": "quantitative", "scale": {"domain": [60, 94.08], "reverse": true, "nice": false, "zero": false},
         "axis": {"orient": "left", "offset": -30, "tickCount": 500, "values": [66,67,68,69,70,71,72,73,74,75,76,77,78,79,80,81,82,83,84,85,86,87,88,89,90,91,92,93,94],
           "tickSize": 6, "format": "d", "labelExpr": "abs(datum.value/2 - round(datum.value/2)) < 0.01 && datum.value < 93 ? format(round(datum.value), 'd') : ''",
           "labelPadding": 2, "labelFontSize": 12, "domain": false, "title": null, "labelOverlap": false, "labelBound": false, "labelFlush": false, "labelSeparation": -1000}}}},
      {"mark": {"type": "text", "angle": 270, "fontSize": 13},
       "encoding": {"y": {"datum": 62.3, "type": "quantitative"}, "text": {"value": "Age (Ma)"}}}
    ]
  },
  {
    "width": 22, "height": 435,
    "layer": [
      {"data": {"name": "stages"}, "mark": {"type": "rect", "stroke": "#505050", "strokeWidth": 1},
       "encoding": {"y": {"field": "start", "type": "quantitative", "scale": {"domain": [60, 94.08], "reverse": true, "nice": false, "zero": false},
           "axis": {"orient": "left", "tickCount": 500, "values": [65,65.2,65.4,65.6,65.8,66.2,66.4,66.6,66.8,67.2,67.4,67.6,67.8,68.2,68.4,68.6,68.8,69.2,69.4,69.6,69.8,70.2,70.4,70.6,70.8,71.2,71.4,71.6,71.8,72.2,72.4,72.6,72.8,73.2,73.4,73.6,73.8,74.2,74.4,74.6,74.8,75.2,75.4,75.6,75.8,76.2,76.4,76.6,76.8,77.2,77.4,77.6,77.8,78.2,78.4,78.6,78.8,79.2,79.4,79.6,79.8,80.2,80.4,80.6,80.8,81.2,81.4,81.6,81.8,82.2,82.4,82.6,82.8,83.2,83.4,83.6,83.8,84.2,84.4,84.6,84.8,85.2,85.4,85.6,85.8,86.2,86.4,86.6,86.8,87.2,87.4,87.6,87.8,88.2,88.4,88.6,88.8,89.2,89.4,89.6,89.8,90.2,90.4,90.6,90.8,91.2,91.4,91.6,91.8,92.2,92.4,92.6,92.8,93.2,93.4,93.6,93.8],
             "tickSize": 3, "labels": false, "domain": false, "title": null}},
         "y2": {"field": "end"},
         "color": {"field": "stage", "type": "nominal", "scale": {"domain": ["D.", "Maastrichtian", "Campanian", "Sant.", "Coniac.", "Turonian"], "range": ["#F6A55C", "#E5E68E", "#E5E68E", "#DEE382", "#CBDD76", "#C3D86B"]}, "legend": null}}},
      {"data": {"name": "stages"}, "mark": {"type": "text", "angle": 270, "fontSize": 12.5},
       "encoding": {"y": {"field": "mid", "type": "quantitative"}, "text": {"field": "stage"}}},
      {"data": {"values": [{}]}, "mark": {"type": "text", "angle": 270, "fontSize": 13},
       "encoding": {"y": {"datum": 62.34, "type": "quantitative"}, "text": {"value": "Stage"}}},
      {"data": {"values": [{}]}, "mark": {"type": "rule", "color": "#505050"},
       "encoding": {"y": {"datum": 64.76, "type": "quantitative"}}}
    ]
  },
  {
    "width": 22, "height": 435,
    "layer": [
      {"data": {"name": "substages"}, "mark": {"type": "rect", "stroke": "#505050", "strokeWidth": 1},
       "encoding": {"y": {"field": "start", "type": "quantitative", "scale": {"domain": [60, 94.08], "reverse": true, "nice": false, "zero": false}, "axis": null}, "y2": {"field": "end"},
         "color": {"field": "stage", "type": "nominal", "scale": {"domain": ["D.", "Maastrichtian", "Campanian", "Sant.", "Coniac.", "Turonian"], "range": ["#F6A55C", "#E5E68E", "#E5E68E", "#DEE382", "#CBDD76", "#C3D86B"]}, "legend": null}}},
      {"data": {"name": "substages"}, "mark": {"type": "text"},
       "encoding": {"y": {"field": "mid", "type": "quantitative", "axis": null}, "text": {"field": "sub"},
         "size": {"field": "fs", "type": "nominal", "scale": {"domain": ["n", "s"], "range": [10, 5]}, "legend": null}}},
      {"data": {"values": [{}]}, "mark": {"type": "text", "angle": 270, "fontSize": 13},
       "encoding": {"y": {"datum": 62.34, "type": "quantitative", "axis": null}, "text": {"value": "Substage"}}},
      {"data": {"values": [{}]}, "mark": {"type": "rule", "color": "#505050"},
       "encoding": {"y": {"datum": 64.76, "type": "quantitative", "axis": null}}}
    ]
  },
  {
    "width": 141, "height": 435,
    "layer": [
      {"data": {"values": [{}]}, "mark": {"type": "rect", "color": "#E2F2FC"},
       "encoding": {"y": {"datum": 78.1, "type": "quantitative", "scale": {"domain": [60, 94.08], "reverse": true, "nice": false, "zero": false}, "axis": null}, "y2": {"datum": 84.9}}},
      {"data": {"name": "pifit"}, "mark": {"type": "area", "orient": "horizontal", "color": "#D9D9D9"},
       "encoding": {"y": {"field": "age", "type": "quantitative", "axis": null},
         "x": {"field": "lo", "type": "quantitative", "scale": {"domain": [-0.05, 0.88], "reverse": true, "nice": false, "zero": false},
           "axis": {"orient": "top", "offset": -60.7, "tickCount": 500, "values": [0.8,0.7,0.6,0.5,0.4,0.3,0.2,0.1,0], "labelExpr": "abs(datum.value*5 - round(datum.value*5)) < 0.01 ? replace(format(round(datum.value*10)/10, '.1~f'), '.', ',') : ''", "title": "P/I", "labelOverlap": false, "labelBound": false, "labelFlush": false, "labelSeparation": -1000}},
         "x2": {"field": "hi"}}},
      {"data": {"name": "pifit"}, "mark": {"type": "line", "color": "#E3262B", "strokeWidth": 1.3},
       "encoding": {"y": {"field": "age", "type": "quantitative", "axis": null}, "x": {"field": "v", "type": "quantitative"}, "order": {"field": "age"}}},
      {"data": {"name": "pi"}, "mark": {"type": "circle", "size": 36, "opacity": 1},
       "encoding": {"y": {"field": "age", "type": "quantitative", "axis": null}, "x": {"field": "v", "type": "quantitative"},
         "color": {"field": "c", "type": "nominal", "scale": {"domain": ["light", "dark"], "range": ["#8a8a8a", "#141414"]}, "legend": null}}},
      {"data": {"values": [{}]}, "mark": {"type": "rule", "color": "#222", "strokeWidth": 1.6},
       "encoding": {"x": {"datum": 0.755, "type": "quantitative"}, "x2": {"datum": 0.108}, "y": {"datum": 95.08, "type": "quantitative", "axis": null}}},
      {"data": {"values": [{}]}, "mark": {"type": "point", "shape": "triangle-left", "filled": true, "size": 70, "color": "#222", "opacity": 1},
       "encoding": {"x": {"datum": 0.755, "type": "quantitative"}, "y": {"datum": 95.08, "type": "quantitative", "axis": null}}},
      {"data": {"values": [{}]}, "mark": {"type": "point", "shape": "triangle-right", "filled": true, "size": 70, "color": "#222", "opacity": 1},
       "encoding": {"x": {"datum": 0.108, "type": "quantitative"}, "y": {"datum": 95.08, "type": "quantitative", "axis": null}}},
      {"data": {"values": [{}]}, "mark": {"type": "text", "fontSize": 14},
       "encoding": {"x": {"datum": 0.738, "type": "quantitative"}, "y": {"datum": 96.57, "type": "quantitative", "axis": null}, "text": {"value": "arid"}}},
      {"data": {"values": [{}]}, "mark": {"type": "text", "fontSize": 14},
       "encoding": {"x": {"datum": 0.148, "type": "quantitative"}, "y": {"datum": 96.57, "type": "quantitative", "axis": null}, "text": {"value": "humid"}}}
    ]
  },
  {
    "width": 142, "height": 435,
    "layer": [
      {"data": {"values": [{}]}, "mark": {"type": "rect", "color": "#E2F2FC"},
       "encoding": {"y": {"datum": 78.1, "type": "quantitative", "scale": {"domain": [60, 94.08], "reverse": true, "nice": false, "zero": false}, "axis": null}, "y2": {"datum": 84.9}}},
      {"data": {"name": "icsfit"}, "mark": {"type": "area", "orient": "horizontal", "color": "#D9D9D9"},
       "encoding": {"y": {"field": "age", "type": "quantitative", "axis": null},
         "x": {"field": "lo", "type": "quantitative", "scale": {"domain": [-0.026, 0.265], "nice": false, "zero": false},
           "axis": {"orient": "top", "offset": -60.7, "tickCount": 500, "values": [0,0.05,0.1,0.15,0.2,0.25], "labelExpr": "abs(datum.value*10 - round(datum.value*10)) < 0.01 && datum.value < 0.22 ? replace(format(round(datum.value*10)/10, '.1~f'), '.', ',') : ''", "title": "(I+C)/S", "labelOverlap": false, "labelBound": false, "labelFlush": false, "labelSeparation": -1000}},
         "x2": {"field": "hi"}}},
      {"data": {"name": "icsfit"}, "mark": {"type": "line", "color": "#E3262B", "strokeWidth": 1.3},
       "encoding": {"y": {"field": "age", "type": "quantitative", "axis": null}, "x": {"field": "v", "type": "quantitative"}, "order": {"field": "age"}}},
      {"data": {"name": "ics"}, "mark": {"type": "circle", "size": 36, "opacity": 1},
       "encoding": {"y": {"field": "age", "type": "quantitative", "axis": null}, "x": {"field": "v", "type": "quantitative"},
         "color": {"field": "c", "type": "nominal", "scale": {"domain": ["light", "dark"], "range": ["#8a8a8a", "#141414"]}, "legend": null}}},
      {"data": {"values": [{}]}, "mark": {"type": "rule", "color": "#222", "strokeWidth": 1.6},
       "encoding": {"x": {"datum": 0.028, "type": "quantitative"}, "x2": {"datum": 0.2035}, "y": {"datum": 95.08, "type": "quantitative", "axis": null}}},
      {"data": {"values": [{}]}, "mark": {"type": "point", "shape": "triangle-right", "filled": true, "size": 70, "color": "#222", "opacity": 1},
       "encoding": {"x": {"datum": 0.2035, "type": "quantitative"}, "y": {"datum": 95.08, "type": "quantitative", "axis": null}}},
      {"data": {"values": [{}]}, "mark": {"type": "text", "fontSize": 14},
       "encoding": {"x": {"datum": 0.134, "type": "quantitative"}, "y": {"datum": 96.57, "type": "quantitative", "axis": null}, "text": {"value": "physical erosion"}}}
    ]
  },
  {
    "width": 140, "height": 435,
    "layer": [
      {"data": {"values": [{}]}, "mark": {"type": "rect", "color": "#E2F2FC"},
       "encoding": {"y": {"datum": 78.1, "type": "quantitative", "scale": {"domain": [60, 94.08], "reverse": true, "nice": false, "zero": false}, "axis": null}, "y2": {"datum": 84.9}}},
      {"data": {"name": "tial"}, "mark": {"type": "line", "color": "#111", "strokeWidth": 1.3, "point": {"filled": true, "size": 28, "color": "#111", "opacity": 1}},
       "encoding": {"y": {"field": "age", "type": "quantitative", "axis": null},
         "x": {"field": "v", "type": "quantitative", "scale": {"domain": [-0.0086, 0.173], "nice": false, "zero": false},
           "axis": {"orient": "top", "offset": -60.7, "tickCount": 500, "values": [0,0.05,0.1,0.15], "format": "~g", "labelExpr": "replace(datum.label, '.', ',')", "title": "Ti/Al", "labelOverlap": false, "labelBound": false, "labelFlush": false, "labelSeparation": -1000}},
         "order": {"field": "age"}}},
      {"data": {"values": [{}]}, "mark": {"type": "rule", "color": "#333", "strokeWidth": 2, "strokeDash": [5, 3]},
       "encoding": {"x": {"datum": 0.0014, "type": "quantitative"}, "y": {"datum": 79.98, "type": "quantitative", "axis": null}, "y2": {"datum": 83.63}}},
      {"data": {"values": [{}]}, "mark": {"type": "rule", "color": "#333", "strokeWidth": 2},
       "encoding": {"x": {"datum": 0.0014, "type": "quantitative"}, "y": {"datum": 83.63, "type": "quantitative", "axis": null}, "y2": {"datum": 93.3}}},
      {"data": {"values": [{}]}, "mark": {"type": "text", "fontSize": 11, "align": "left", "baseline": "middle", "lineHeight": 15},
       "encoding": {"x": {"datum": 0.0096, "type": "quantitative"}, "y": {"datum": 88.1, "type": "quantitative", "axis": null}, "text": {"value": ["Tectonic", "pulse"]}}},
      {"data": {"values": [{}]}, "mark": {"type": "rule", "color": "#222", "strokeWidth": 1.6},
       "encoding": {"x": {"datum": 0.0278, "type": "quantitative"}, "x2": {"datum": 0.1328}, "y": {"datum": 95.08, "type": "quantitative", "axis": null}}},
      {"data": {"values": [{}]}, "mark": {"type": "point", "shape": "triangle-right", "filled": true, "size": 70, "color": "#222", "opacity": 1},
       "encoding": {"x": {"datum": 0.1328, "type": "quantitative"}, "y": {"datum": 95.08, "type": "quantitative", "axis": null}}},
      {"data": {"values": [{}]}, "mark": {"type": "text", "fontSize": 14},
       "encoding": {"x": {"datum": 0.0822, "type": "quantitative"}, "y": {"datum": 96.57, "type": "quantitative", "axis": null}, "text": {"value": "detritism"}}}
    ]
  },
  {
    "width": 143, "height": 435,
    "layer": [
      {"data": {"values": [{}]}, "mark": {"type": "rect", "color": "#E2F2FC"},
       "encoding": {"y": {"datum": 78.1, "type": "quantitative", "scale": {"domain": [60, 94.08], "reverse": true, "nice": false, "zero": false}, "axis": null}, "y2": {"datum": 84.9}}},
      {"data": {"name": "nd"}, "mark": {"type": "line", "color": "#111", "strokeWidth": 1.3, "point": {"filled": true, "size": 28, "color": "#111", "opacity": 1}},
       "encoding": {"y": {"field": "age", "type": "quantitative", "axis": null},
         "x": {"field": "v", "type": "quantitative", "scale": {"domain": [-12.91, -5.09], "nice": false, "zero": false},
           "axis": {"orient": "top", "offset": -60.7, "tickCount": 500, "values": [-12,-10,-8,-6], "format": "d", "title": null, "labelOverlap": false, "labelBound": false, "labelFlush": false, "labelSeparation": -1000}},
         "order": {"field": "age"}}},
      {"data": {"values": [{}]}, "mark": {"type": "text", "fontSize": 20, "align": "left", "baseline": "middle"},
       "encoding": {"x": {"datum": -10.39, "type": "quantitative"}, "y": {"datum": 61.8, "type": "quantitative", "axis": null}, "text": {"value": "ε"}}},
      {"data": {"values": [{}]}, "mark": {"type": "text", "fontSize": 12, "align": "left", "baseline": "middle"},
       "encoding": {"x": {"datum": -9.84, "type": "quantitative"}, "y": {"datum": 62.35, "type": "quantitative", "axis": null}, "text": {"value": "Nd"}}},
      {"data": {"values": [{}]}, "mark": {"type": "text", "fontSize": 17, "align": "left", "baseline": "middle"},
       "encoding": {"x": {"datum": -8.83, "type": "quantitative"}, "y": {"datum": 61.8, "type": "quantitative", "axis": null}, "text": {"value": "(t)"}}},
      {"data": {"values": [{}]}, "mark": {"type": "rule", "color": "#222", "strokeWidth": 1.6},
       "encoding": {"x": {"datum": -11.98, "type": "quantitative"}, "x2": {"datum": -6.46}, "y": {"datum": 95.08, "type": "quantitative", "axis": null}}},
      {"data": {"values": [{}]}, "mark": {"type": "point", "shape": "triangle-left", "filled": true, "size": 70, "color": "#222", "opacity": 1},
       "encoding": {"x": {"datum": -11.98, "type": "quantitative"}, "y": {"datum": 95.08, "type": "quantitative", "axis": null}}},
      {"data": {"values": [{}]}, "mark": {"type": "point", "shape": "triangle-right", "filled": true, "size": 70, "color": "#222", "opacity": 1},
       "encoding": {"x": {"datum": -6.46, "type": "quantitative"}, "y": {"datum": 95.08, "type": "quantitative", "axis": null}}},
      {"data": {"values": [{}]}, "mark": {"type": "text", "fontSize": 14},
       "encoding": {"x": {"datum": -11.65, "type": "quantitative"}, "y": {"datum": 96.57, "type": "quantitative", "axis": null}, "text": {"value": "crustal"}}},
      {"data": {"values": [{}]}, "mark": {"type": "text", "fontSize": 14},
       "encoding": {"x": {"datum": -6.95, "type": "quantitative"}, "y": {"datum": 96.57, "type": "quantitative", "axis": null}, "text": {"value": "mantellic"}}}
    ]
  },
  {
    "width": 140, "height": 435,
    "layer": [
      {"data": {"values": [{}]}, "mark": {"type": "rect", "color": "#E2F2FC"},
       "encoding": {"y": {"datum": 78.1, "type": "quantitative", "scale": {"domain": [60, 94.08], "reverse": true, "nice": false, "zero": false}, "axis": null}, "y2": {"datum": 84.9}}},
      {"data": {"name": "hf"}, "mark": {"type": "line", "color": "#111", "strokeWidth": 1.3, "point": {"filled": true, "size": 28, "color": "#111", "opacity": 1}},
       "encoding": {"y": {"field": "age", "type": "quantitative", "axis": null},
         "x": {"field": "v", "type": "quantitative", "scale": {"domain": [-4.59, 2.45], "nice": false, "zero": false},
           "axis": {"orient": "top", "offset": -60.7, "tickCount": 500, "values": [-4,-2,0,2], "format": "d", "title": null, "labelOverlap": false, "labelBound": false, "labelFlush": false, "labelSeparation": -1000}},
         "order": {"field": "age"}}},
      {"data": {"values": [{}]}, "mark": {"type": "text", "fontSize": 18, "align": "left", "baseline": "middle"},
       "encoding": {"x": {"datum": -2.64, "type": "quantitative"}, "y": {"datum": 61.57, "type": "quantitative", "axis": null}, "text": {"value": "Δε"}}},
      {"data": {"values": [{}]}, "mark": {"type": "text", "fontSize": 12, "align": "left", "baseline": "middle"},
       "encoding": {"x": {"datum": -1.64, "type": "quantitative"}, "y": {"datum": 62.35, "type": "quantitative", "axis": null}, "text": {"value": "Hf(t)clay"}}},
      {"data": {"values": [{}]}, "mark": {"type": "rule", "color": "#222", "strokeWidth": 1.6},
       "encoding": {"x": {"datum": -3.38, "type": "quantitative"}, "x2": {"datum": 0.892}, "y": {"datum": 95.08, "type": "quantitative", "axis": null}}},
      {"data": {"values": [{}]}, "mark": {"type": "point", "shape": "triangle-right", "filled": true, "size": 70, "color": "#222", "opacity": 1},
       "encoding": {"x": {"datum": 0.892, "type": "quantitative"}, "y": {"datum": 95.08, "type": "quantitative", "axis": null}}},
      {"data": {"values": [{}]}, "mark": {"type": "text", "fontSize": 14},
       "encoding": {"x": {"datum": -0.97, "type": "quantitative"}, "y": {"datum": 96.57, "type": "quantitative", "axis": null}, "text": {"value": "chemical weathering"}}}
    ]
  },
  {
    "width": 148, "height": 435,
    "layer": [
      {"data": {"values": [{}]}, "mark": {"type": "rect", "color": "#E2F2FC"},
       "encoding": {"y": {"datum": 78.1, "type": "quantitative", "scale": {"domain": [60, 94.08], "reverse": true, "nice": false, "zero": false}, "axis": null}, "y2": {"datum": 84.9}}},
      {"data": {"name": "cia"}, "mark": {"type": "line", "color": "#111", "strokeWidth": 1.3, "point": {"filled": true, "size": 28, "color": "#111", "opacity": 1}},
       "encoding": {"y": {"field": "age", "type": "quantitative", "axis": null},
         "x": {"field": "v", "type": "quantitative", "scale": {"domain": [54.34, 65.97], "nice": false, "zero": false},
           "axis": {"orient": "top", "offset": -60.7, "tickCount": 500, "values": [55,60,65], "format": "d", "title": "CIA", "labelOverlap": false, "labelBound": false, "labelFlush": false, "labelSeparation": -1000}},
         "order": {"field": "age"}}},
      {"data": {"values": [{}]}, "mark": {"type": "rule", "color": "#222", "strokeWidth": 1.6},
       "encoding": {"x": {"datum": 56.85, "type": "quantitative"}, "x2": {"datum": 63.41}, "y": {"datum": 95.08, "type": "quantitative", "axis": null}}},
      {"data": {"values": [{}]}, "mark": {"type": "point", "shape": "triangle-right", "filled": true, "size": 70, "color": "#222", "opacity": 1},
       "encoding": {"x": {"datum": 63.41, "type": "quantitative"}, "y": {"datum": 95.08, "type": "quantitative", "axis": null}}},
      {"data": {"values": [{}]}, "mark": {"type": "text", "fontSize": 14},
       "encoding": {"x": {"datum": 60.47, "type": "quantitative"}, "y": {"datum": 96.57, "type": "quantitative", "axis": null}, "text": {"value": "chem. wheathering"}}}
    ]
  },
  {
    "width": 276, "height": 435,
    "layer": [
      {"data": {"values": [{}]}, "mark": {"type": "rect", "color": "#E2F2FC"},
       "encoding": {"y": {"datum": 78.1, "type": "quantitative", "scale": {"domain": [60, 94.08], "reverse": true, "nice": false, "zero": false}, "axis": null}, "y2": {"datum": 84.9}}},
      {"data": {"name": "o18"}, "mark": {"type": "point", "shape": "circle", "filled": true, "fill": "white", "stroke": "#1a1a1a", "strokeWidth": 0.9, "size": 42, "opacity": 1},
       "encoding": {"y": {"field": "a", "type": "quantitative", "axis": null},
         "x": {"field": "d", "type": "quantitative", "scale": {"domain": [-4.08, 1.52], "reverse": true, "nice": false, "zero": false},
           "axis": {"orient": "top", "offset": -60.7, "tickCount": 500, "values": [1.2,0.8,0.4,0,-0.4,-0.8,-1.2,-1.6,-2,-2.4,-2.8,-3.2,-3.6,-4], "labelExpr": "abs(datum.value/2 - round(datum.value/2)) < 0.01 ? (round(datum.value) < 0 ? '-' + format(-round(datum.value), 'd') : format(round(datum.value), 'd')) : ''", "title": null, "labelOverlap": false, "labelBound": false, "labelFlush": false, "labelSeparation": -1000}}}},
      {"data": {"values": [{}]}, "mark": {"type": "rule", "color": "#1B9DDE", "strokeWidth": 3, "strokeDash": [11, 7]},
       "encoding": {"x": {"datum": -3.815, "type": "quantitative"}, "y": {"datum": 92.84, "type": "quantitative", "axis": null}, "x2": {"datum": -2.98}, "y2": {"datum": 84.92}}},
      {"data": {"values": [{}]}, "mark": {"type": "rule", "color": "#1B9DDE", "strokeWidth": 3},
       "encoding": {"x": {"datum": -2.98, "type": "quantitative"}, "y": {"datum": 84.92, "type": "quantitative", "axis": null}, "x2": {"datum": -2.268}, "y2": {"datum": 78.18}}},
      {"data": {"values": [{}]}, "mark": {"type": "rule", "color": "#1B9DDE", "strokeWidth": 3, "strokeDash": [11, 7]},
       "encoding": {"x": {"datum": -2.268, "type": "quantitative"}, "y": {"datum": 78.18, "type": "quantitative", "axis": null}, "x2": {"datum": -1.148}, "y2": {"datum": 67.52}}},
      {"data": {"values": [{}]}, "mark": {"type": "point", "shape": "triangle-up", "filled": true, "size": 520, "angle": -23, "color": "#1B9DDE", "opacity": 1},
       "encoding": {"x": {"datum": -1.049, "type": "quantitative"}, "y": {"datum": 66.63, "type": "quantitative", "axis": null}}},
      {"data": {"values": [{}]}, "mark": {"type": "text", "fontSize": 11, "font": "Lato", "fontWeight": "bold", "color": "#1B9DDE", "baseline": "middle", "lineHeight": 14},
       "encoding": {"x": {"datum": -3.43, "type": "quantitative"}, "y": {"datum": 80.3, "type": "quantitative", "axis": null}, "text": {"value": ["Cooling", "acceleration"]}}},
      {"data": {"values": [{}]}, "mark": {"type": "text", "fontSize": 18, "align": "left", "baseline": "middle"},
       "encoding": {"x": {"datum": -0.185, "type": "quantitative"}, "y": {"datum": 61.8, "type": "quantitative", "axis": null}, "text": {"value": "δ"}}},
      {"data": {"values": [{}]}, "mark": {"type": "text", "fontSize": 10, "align": "left", "baseline": "middle"},
       "encoding": {"x": {"datum": -0.347, "type": "quantitative"}, "y": {"datum": 61.33, "type": "quantitative", "axis": null}, "text": {"value": "18"}}},
      {"data": {"values": [{}]}, "mark": {"type": "text", "fontSize": 18, "align": "left", "baseline": "middle"},
       "encoding": {"x": {"datum": -0.54, "type": "quantitative"}, "y": {"datum": 61.8, "type": "quantitative", "axis": null}, "text": {"value": "O"}}},
      {"data": {"values": [{}]}, "mark": {"type": "text", "fontSize": 10, "align": "left", "baseline": "middle"},
       "encoding": {"x": {"datum": -0.895, "type": "quantitative"}, "y": {"datum": 62.35, "type": "quantitative", "axis": null}, "text": {"value": "benthic"}}},
      {"data": {"values": [{}]}, "mark": {"type": "text", "fontSize": 16, "align": "left", "baseline": "middle"},
       "encoding": {"x": {"datum": -1.625, "type": "quantitative"}, "y": {"datum": 61.8, "type": "quantitative", "axis": null}, "text": {"value": "(‰)"}}},
      {"data": {"values": [{}]}, "mark": {"type": "rule", "color": "#222", "strokeWidth": 1.6},
       "encoding": {"x": {"datum": 0.282, "type": "quantitative"}, "x2": {"datum": -3.045}, "y": {"datum": 95.08, "type": "quantitative", "axis": null}}},
      {"data": {"values": [{}]}, "mark": {"type": "point", "shape": "triangle-right", "filled": true, "size": 70, "color": "#222", "opacity": 1},
       "encoding": {"x": {"datum": -3.045, "type": "quantitative"}, "y": {"datum": 95.08, "type": "quantitative", "axis": null}}},
      {"data": {"values": [{}]}, "mark": {"type": "text", "fontSize": 14},
       "encoding": {"x": {"datum": -1.34, "type": "quantitative"}, "y": {"datum": 96.57, "type": "quantitative", "axis": null}, "text": {"value": "Bottom seawater temperatures"}}}
    ]
  }
]
}
